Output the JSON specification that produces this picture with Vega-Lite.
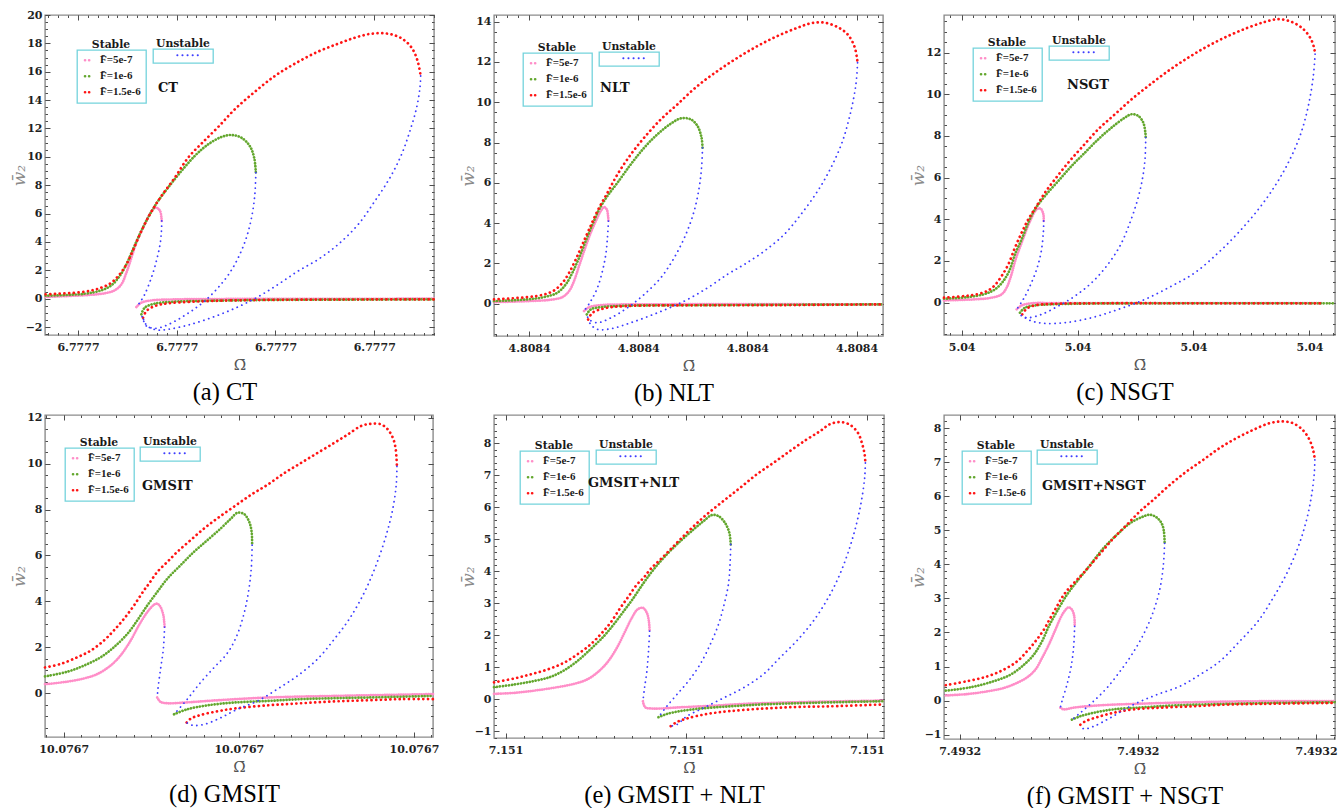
{
"$schema": "https://vega.github.io/schema/vega-lite/v6.json",
"background": "white",
"padding": {"left": 9, "top": 8, "right": 0, "bottom": 0},
"columns": 3,
"bounds": "flush",
"spacing": {"row": 79, "column": 60},
"resolve": {"scale": {"color": "independent", "strokeDash": "independent"}, "legend": {"color": "independent", "strokeDash": "independent"}},
"config": {
 "view": {"stroke": "#8c8c8c", "strokeWidth": 1.4},
 "title": {"font": "DejaVu Serif", "fontSize": 13, "fontWeight": "bold", "color": "#141414", "anchor": "start", "frame": "group", "offset": 0, "baseline": "alphabetic"},
 "axis": {"grid": false, "domain": false, "tickColor": "#4d4d4d", "tickWidth": 1, "labelFont": "DejaVu Serif", "labelFontWeight": "bold", "labelFontSize": 11, "labelColor": "#1f1f1f", "labelFlush": false, "labelOverlap": false, "titleFont": "DejaVu Serif", "titleFontWeight": "normal"},
 "legend": {"orient": "none", "strokeColor": "#74d3dc", "strokeWidth": 1.3, "fillColor": "white", "padding": 5, "titleFont": "DejaVu Serif", "titleFontWeight": "bold", "titleFontSize": 10.8, "titleColor": "#1a1a1a", "titleBaseline": "alphabetic", "labelFont": "Liberation Serif", "labelFontWeight": "bold", "labelFontSize": 11, "labelColor": "#1a1a1a", "symbolType": "stroke", "rowPadding": 4, "labelOffset": 7}
},
"datasets": {
"a": [
{"F":"5e-7","b":"s1","x":0.672,"y":0.12},{"F":"5e-7","b":"s1","x":0.899,"y":0.19},{"F":"5e-7","b":"s1","x":1.101,"y":0.26},{"F":"5e-7","b":"s1","x":1.27,"y":0.38},{"F":"5e-7","b":"s1","x":1.372,"y":0.59},{"F":"5e-7","b":"s1","x":1.439,"y":1.01},{"F":"5e-7","b":"s1","x":1.49,"y":1.83},{"F":"5e-7","b":"s1","x":1.541,"y":2.89},{"F":"5e-7","b":"s1","x":1.591,"y":3.95},{"F":"5e-7","b":"s1","x":1.659,"y":5.0},{"F":"5e-7","b":"s1","x":1.726,"y":5.95},{"F":"5e-7","b":"s1","x":1.784,"y":6.42},{"F":"5e-7","b":"s1","x":1.828,"y":6.23},{"F":"5e-7","b":"s1","x":1.845,"y":5.71},{"F":"5e-7","b":"s1","x":1.848,"y":5.48},
{"F":"5e-7","b":"u","x":1.848,"y":5.48},{"F":"5e-7","b":"u","x":1.845,"y":4.77},{"F":"5e-7","b":"u","x":1.831,"y":3.83},{"F":"5e-7","b":"u","x":1.794,"y":2.66},{"F":"5e-7","b":"u","x":1.743,"y":1.48},{"F":"5e-7","b":"u","x":1.676,"y":0.31},{"F":"5e-7","b":"u","x":1.625,"y":-0.28},{"F":"5e-7","b":"u","x":1.591,"y":-0.59},
{"F":"5e-7","b":"s2","x":1.591,"y":-0.59},{"F":"5e-7","b":"s2","x":1.642,"y":-0.28},{"F":"5e-7","b":"s2","x":1.743,"y":-0.12},{"F":"5e-7","b":"s2","x":1.98,"y":-0.05},{"F":"5e-7","b":"s2","x":2.5,"y":-0.02},{"F":"5e-7","b":"s2","x":3.264,"y":-0.01},{"F":"5e-7","b":"s2","x":4.605,"y":0.0},
{"F":"1e-6","b":"s1","x":0.672,"y":0.21},{"F":"1e-6","b":"s1","x":1.068,"y":0.35},{"F":"1e-6","b":"s1","x":1.236,"y":0.59},{"F":"1e-6","b":"s1","x":1.338,"y":0.94},{"F":"1e-6","b":"s1","x":1.422,"y":1.6},{"F":"1e-6","b":"s1","x":1.49,"y":2.42},{"F":"1e-6","b":"s1","x":1.557,"y":3.48},{"F":"1e-6","b":"s1","x":1.625,"y":4.54},{"F":"1e-6","b":"s1","x":1.709,"y":5.71},{"F":"1e-6","b":"s1","x":1.811,"y":6.89},{"F":"1e-6","b":"s1","x":1.912,"y":7.83},{"F":"1e-6","b":"s1","x":2.047,"y":9.0},{"F":"1e-6","b":"s1","x":2.182,"y":10.06},{"F":"1e-6","b":"s1","x":2.318,"y":10.88},{"F":"1e-6","b":"s1","x":2.453,"y":11.4},{"F":"1e-6","b":"s1","x":2.554,"y":11.54},{"F":"1e-6","b":"s1","x":2.655,"y":11.35},{"F":"1e-6","b":"s1","x":2.74,"y":10.76},{"F":"1e-6","b":"s1","x":2.784,"y":9.94},{"F":"1e-6","b":"s1","x":2.801,"y":8.88},
{"F":"1e-6","b":"u","x":2.801,"y":8.88},{"F":"1e-6","b":"u","x":2.791,"y":7.36},{"F":"1e-6","b":"u","x":2.764,"y":5.95},{"F":"1e-6","b":"u","x":2.716,"y":4.54},{"F":"1e-6","b":"u","x":2.639,"y":3.13},{"F":"1e-6","b":"u","x":2.537,"y":1.83},{"F":"1e-6","b":"u","x":2.419,"y":0.78},{"F":"1e-6","b":"u","x":2.284,"y":-0.16},{"F":"1e-6","b":"u","x":2.149,"y":-0.87},{"F":"1e-6","b":"u","x":2.014,"y":-1.46},{"F":"1e-6","b":"u","x":1.878,"y":-1.93},{"F":"1e-6","b":"u","x":1.777,"y":-2.09},{"F":"1e-6","b":"u","x":1.693,"y":-1.93},{"F":"1e-6","b":"u","x":1.659,"y":-1.46},{"F":"1e-6","b":"u","x":1.642,"y":-1.1},
{"F":"1e-6","b":"s2","x":1.642,"y":-1.1},{"F":"1e-6","b":"s2","x":1.676,"y":-0.63},{"F":"1e-6","b":"s2","x":1.777,"y":-0.35},{"F":"1e-6","b":"s2","x":1.98,"y":-0.21},{"F":"1e-6","b":"s2","x":2.25,"y":-0.16},{"F":"1e-6","b":"s2","x":2.926,"y":-0.09},{"F":"1e-6","b":"s2","x":3.601,"y":-0.07},{"F":"1e-6","b":"s2","x":4.605,"y":-0.05},
{"F":"1.5e-6","b":"s1","x":0.672,"y":0.31},{"F":"1.5e-6","b":"s1","x":1.068,"y":0.49},{"F":"1.5e-6","b":"s1","x":1.236,"y":0.78},{"F":"1.5e-6","b":"s1","x":1.338,"y":1.13},{"F":"1.5e-6","b":"s1","x":1.422,"y":1.72},{"F":"1.5e-6","b":"s1","x":1.49,"y":2.42},{"F":"1.5e-6","b":"s1","x":1.557,"y":3.41},{"F":"1.5e-6","b":"s1","x":1.642,"y":4.77},{"F":"1.5e-6","b":"s1","x":1.743,"y":6.13},{"F":"1.5e-6","b":"s1","x":1.845,"y":7.24},{"F":"1.5e-6","b":"s1","x":1.98,"y":8.53},{"F":"1.5e-6","b":"s1","x":2.115,"y":9.94},{"F":"1.5e-6","b":"s1","x":2.25,"y":10.93},{"F":"1.5e-6","b":"s1","x":2.419,"y":12.1},{"F":"1.5e-6","b":"s1","x":2.588,"y":13.35},{"F":"1.5e-6","b":"s1","x":2.791,"y":14.59},{"F":"1.5e-6","b":"s1","x":2.993,"y":15.7},{"F":"1.5e-6","b":"s1","x":3.196,"y":16.57},{"F":"1.5e-6","b":"s1","x":3.432,"y":17.42},{"F":"1.5e-6","b":"s1","x":3.635,"y":17.98},{"F":"1.5e-6","b":"s1","x":3.804,"y":18.4},{"F":"1.5e-6","b":"s1","x":3.973,"y":18.68},{"F":"1.5e-6","b":"s1","x":4.142,"y":18.68},{"F":"1.5e-6","b":"s1","x":4.277,"y":18.35},{"F":"1.5e-6","b":"s1","x":4.378,"y":17.7},{"F":"1.5e-6","b":"s1","x":4.439,"y":16.76},{"F":"1.5e-6","b":"s1","x":4.47,"y":15.7},
{"F":"1.5e-6","b":"u","x":4.47,"y":15.7},{"F":"1.5e-6","b":"u","x":4.463,"y":14.88},{"F":"1.5e-6","b":"u","x":4.429,"y":13.47},{"F":"1.5e-6","b":"u","x":4.361,"y":11.82},{"F":"1.5e-6","b":"u","x":4.277,"y":10.18},{"F":"1.5e-6","b":"u","x":4.159,"y":8.53},{"F":"1.5e-6","b":"u","x":4.007,"y":6.89},{"F":"1.5e-6","b":"u","x":3.838,"y":5.24},{"F":"1.5e-6","b":"u","x":3.635,"y":3.83},{"F":"1.5e-6","b":"u","x":3.432,"y":2.77},{"F":"1.5e-6","b":"u","x":3.23,"y":1.95},{"F":"1.5e-6","b":"u","x":3.027,"y":1.01},{"F":"1.5e-6","b":"u","x":2.807,"y":0.07},{"F":"1.5e-6","b":"u","x":2.588,"y":-0.68},{"F":"1.5e-6","b":"u","x":2.351,"y":-1.34},{"F":"1.5e-6","b":"u","x":2.115,"y":-1.86},{"F":"1.5e-6","b":"u","x":1.912,"y":-2.16},{"F":"1.5e-6","b":"u","x":1.811,"y":-2.21},{"F":"1.5e-6","b":"u","x":1.726,"y":-2.04},{"F":"1.5e-6","b":"u","x":1.676,"y":-1.69},{"F":"1.5e-6","b":"u","x":1.659,"y":-1.34},
{"F":"1.5e-6","b":"s2","x":1.659,"y":-1.34},{"F":"1.5e-6","b":"s2","x":1.693,"y":-0.87},{"F":"1.5e-6","b":"s2","x":1.777,"y":-0.52},{"F":"1.5e-6","b":"s2","x":1.912,"y":-0.33},{"F":"1.5e-6","b":"s2","x":2.182,"y":-0.21},{"F":"1.5e-6","b":"s2","x":2.588,"y":-0.12},{"F":"1.5e-6","b":"s2","x":3.264,"y":-0.07},{"F":"1.5e-6","b":"s2","x":4.605,"y":-0.05}
],
"b": [
{"F":"5e-7","b":"s1","x":0.679,"y":0.08},{"F":"5e-7","b":"s1","x":0.985,"y":0.13},{"F":"5e-7","b":"s1","x":1.199,"y":0.2},{"F":"5e-7","b":"s1","x":1.306,"y":0.33},{"F":"5e-7","b":"s1","x":1.367,"y":0.63},{"F":"5e-7","b":"s1","x":1.412,"y":1.13},{"F":"5e-7","b":"s1","x":1.458,"y":1.87},{"F":"5e-7","b":"s1","x":1.504,"y":2.61},{"F":"5e-7","b":"s1","x":1.559,"y":3.44},{"F":"5e-7","b":"s1","x":1.611,"y":4.1},{"F":"5e-7","b":"s1","x":1.657,"y":4.6},{"F":"5e-7","b":"s1","x":1.687,"y":4.8},{"F":"5e-7","b":"s1","x":1.712,"y":4.68},{"F":"5e-7","b":"s1","x":1.724,"y":4.35},{"F":"5e-7","b":"s1","x":1.727,"y":4.1},
{"F":"5e-7","b":"u","x":1.727,"y":4.1},{"F":"5e-7","b":"u","x":1.718,"y":3.28},{"F":"5e-7","b":"u","x":1.703,"y":2.45},{"F":"5e-7","b":"u","x":1.672,"y":1.62},{"F":"5e-7","b":"u","x":1.626,"y":0.79},{"F":"5e-7","b":"u","x":1.565,"y":0.13},{"F":"5e-7","b":"u","x":1.504,"y":-0.36},
{"F":"5e-7","b":"s2","x":1.504,"y":-0.36},{"F":"5e-7","b":"s2","x":1.55,"y":-0.17},{"F":"5e-7","b":"s2","x":1.657,"y":-0.07},{"F":"5e-7","b":"s2","x":2.054,"y":-0.03},{"F":"5e-7","b":"s2","x":4.242,"y":-0.03},
{"F":"1e-6","b":"s1","x":0.679,"y":0.13},{"F":"1e-6","b":"s1","x":0.985,"y":0.22},{"F":"1e-6","b":"s1","x":1.137,"y":0.33},{"F":"1e-6","b":"s1","x":1.26,"y":0.55},{"F":"1e-6","b":"s1","x":1.336,"y":0.96},{"F":"1e-6","b":"s1","x":1.397,"y":1.54},{"F":"1e-6","b":"s1","x":1.458,"y":2.28},{"F":"1e-6","b":"s1","x":1.519,"y":3.11},{"F":"1e-6","b":"s1","x":1.581,"y":3.94},{"F":"1e-6","b":"s1","x":1.642,"y":4.68},{"F":"1e-6","b":"s1","x":1.718,"y":5.35},{"F":"1e-6","b":"s1","x":1.81,"y":6.01},{"F":"1e-6","b":"s1","x":1.932,"y":6.92},{"F":"1e-6","b":"s1","x":2.054,"y":7.74},{"F":"1e-6","b":"s1","x":2.176,"y":8.41},{"F":"1e-6","b":"s1","x":2.299,"y":8.94},{"F":"1e-6","b":"s1","x":2.39,"y":9.2},{"F":"1e-6","b":"s1","x":2.482,"y":9.15},{"F":"1e-6","b":"s1","x":2.543,"y":8.82},{"F":"1e-6","b":"s1","x":2.58,"y":8.24},{"F":"1e-6","b":"s1","x":2.589,"y":7.74},
{"F":"1e-6","b":"u","x":2.589,"y":7.74},{"F":"1e-6","b":"u","x":2.58,"y":6.75},{"F":"1e-6","b":"u","x":2.558,"y":5.76},{"F":"1e-6","b":"u","x":2.512,"y":4.6},{"F":"1e-6","b":"u","x":2.436,"y":3.44},{"F":"1e-6","b":"u","x":2.329,"y":2.28},{"F":"1e-6","b":"u","x":2.207,"y":1.29},{"F":"1e-6","b":"u","x":2.054,"y":0.46},{"F":"1e-6","b":"u","x":1.901,"y":-0.2},{"F":"1e-6","b":"u","x":1.749,"y":-0.7},{"F":"1e-6","b":"u","x":1.626,"y":-0.94},{"F":"1e-6","b":"u","x":1.55,"y":-0.78},{"F":"1e-6","b":"u","x":1.529,"y":-0.53},
{"F":"1e-6","b":"s2","x":1.529,"y":-0.53},{"F":"1e-6","b":"s2","x":1.565,"y":-0.28},{"F":"1e-6","b":"s2","x":1.657,"y":-0.17},{"F":"1e-6","b":"s2","x":1.871,"y":-0.1},{"F":"1e-6","b":"s2","x":2.665,"y":-0.07},{"F":"1e-6","b":"s2","x":4.242,"y":-0.03},
{"F":"1.5e-6","b":"s1","x":0.679,"y":0.22},{"F":"1.5e-6","b":"s1","x":0.985,"y":0.33},{"F":"1.5e-6","b":"s1","x":1.137,"y":0.46},{"F":"1.5e-6","b":"s1","x":1.229,"y":0.66},{"F":"1.5e-6","b":"s1","x":1.306,"y":1.04},{"F":"1.5e-6","b":"s1","x":1.367,"y":1.54},{"F":"1.5e-6","b":"s1","x":1.428,"y":2.2},{"F":"1.5e-6","b":"s1","x":1.489,"y":2.95},{"F":"1.5e-6","b":"s1","x":1.55,"y":3.69},{"F":"1.5e-6","b":"s1","x":1.626,"y":4.6},{"F":"1.5e-6","b":"s1","x":1.718,"y":5.51},{"F":"1.5e-6","b":"s1","x":1.81,"y":6.42},{"F":"1.5e-6","b":"s1","x":1.932,"y":7.41},{"F":"1.5e-6","b":"s1","x":2.054,"y":8.24},{"F":"1.5e-6","b":"s1","x":2.207,"y":9.15},{"F":"1.5e-6","b":"s1","x":2.36,"y":9.9},{"F":"1.5e-6","b":"s1","x":2.543,"y":10.81},{"F":"1.5e-6","b":"s1","x":2.726,"y":11.55},{"F":"1.5e-6","b":"s1","x":2.91,"y":12.21},{"F":"1.5e-6","b":"s1","x":3.093,"y":12.79},{"F":"1.5e-6","b":"s1","x":3.276,"y":13.29},{"F":"1.5e-6","b":"s1","x":3.46,"y":13.7},{"F":"1.5e-6","b":"s1","x":3.582,"y":13.92},{"F":"1.5e-6","b":"s1","x":3.704,"y":13.95},{"F":"1.5e-6","b":"s1","x":3.826,"y":13.73},{"F":"1.5e-6","b":"s1","x":3.918,"y":13.37},{"F":"1.5e-6","b":"s1","x":3.979,"y":12.79},{"F":"1.5e-6","b":"s1","x":4.003,"y":12.21},{"F":"1.5e-6","b":"s1","x":4.009,"y":11.96},
{"F":"1.5e-6","b":"u","x":4.009,"y":11.96},{"F":"1.5e-6","b":"u","x":3.994,"y":10.89},{"F":"1.5e-6","b":"u","x":3.948,"y":9.56},{"F":"1.5e-6","b":"u","x":3.872,"y":8.08},{"F":"1.5e-6","b":"u","x":3.765,"y":6.75},{"F":"1.5e-6","b":"u","x":3.643,"y":5.59},{"F":"1.5e-6","b":"u","x":3.49,"y":4.43},{"F":"1.5e-6","b":"u","x":3.337,"y":3.44},{"F":"1.5e-6","b":"u","x":3.154,"y":2.61},{"F":"1.5e-6","b":"u","x":2.971,"y":1.95},{"F":"1.5e-6","b":"u","x":2.818,"y":1.46},{"F":"1.5e-6","b":"u","x":2.635,"y":0.79},{"F":"1.5e-6","b":"u","x":2.421,"y":0.13},{"F":"1.5e-6","b":"u","x":2.176,"y":-0.45},{"F":"1.5e-6","b":"u","x":1.932,"y":-0.94},{"F":"1.5e-6","b":"u","x":1.749,"y":-1.24},{"F":"1.5e-6","b":"u","x":1.626,"y":-1.27},{"F":"1.5e-6","b":"u","x":1.565,"y":-1.03},{"F":"1.5e-6","b":"u","x":1.541,"y":-0.78},
{"F":"1.5e-6","b":"s2","x":1.541,"y":-0.78},{"F":"1.5e-6","b":"s2","x":1.581,"y":-0.45},{"F":"1.5e-6","b":"s2","x":1.687,"y":-0.23},{"F":"1.5e-6","b":"s2","x":1.871,"y":-0.12},{"F":"1.5e-6","b":"s2","x":2.36,"y":-0.08},{"F":"1.5e-6","b":"s2","x":3.276,"y":-0.07},{"F":"1.5e-6","b":"s2","x":4.242,"y":-0.03}
],
"c": [
{"F":"5e-7","b":"s1","x":0.848,"y":0.11},{"F":"5e-7","b":"s1","x":1.115,"y":0.16},{"F":"5e-7","b":"s1","x":1.259,"y":0.24},{"F":"5e-7","b":"s1","x":1.345,"y":0.4},{"F":"5e-7","b":"s1","x":1.388,"y":0.72},{"F":"5e-7","b":"s1","x":1.426,"y":1.28},{"F":"5e-7","b":"s1","x":1.466,"y":2.08},{"F":"5e-7","b":"s1","x":1.518,"y":2.88},{"F":"5e-7","b":"s1","x":1.561,"y":3.52},{"F":"5e-7","b":"s1","x":1.604,"y":4.08},{"F":"5e-7","b":"s1","x":1.647,"y":4.48},{"F":"5e-7","b":"s1","x":1.682,"y":4.51},{"F":"5e-7","b":"s1","x":1.705,"y":4.24},{"F":"5e-7","b":"s1","x":1.708,"y":3.92},
{"F":"5e-7","b":"u","x":1.708,"y":3.92},{"F":"5e-7","b":"u","x":1.705,"y":3.36},{"F":"5e-7","b":"u","x":1.685,"y":2.4},{"F":"5e-7","b":"u","x":1.647,"y":1.6},{"F":"5e-7","b":"u","x":1.59,"y":0.8},{"F":"5e-7","b":"u","x":1.532,"y":0.16},{"F":"5e-7","b":"u","x":1.475,"y":-0.32},
{"F":"5e-7","b":"s2","x":1.475,"y":-0.32},{"F":"5e-7","b":"s2","x":1.518,"y":-0.13},{"F":"5e-7","b":"s2","x":1.604,"y":-0.03},{"F":"5e-7","b":"s2","x":1.834,"y":-0.02},{"F":"5e-7","b":"s2","x":4.106,"y":-0.02},
{"F":"1e-6","b":"s1","x":0.848,"y":0.19},{"F":"1e-6","b":"s1","x":1.058,"y":0.27},{"F":"1e-6","b":"s1","x":1.201,"y":0.42},{"F":"1e-6","b":"s1","x":1.288,"y":0.64},{"F":"1e-6","b":"s1","x":1.36,"y":1.04},{"F":"1e-6","b":"s1","x":1.417,"y":1.6},{"F":"1e-6","b":"s1","x":1.46,"y":2.32},{"F":"1e-6","b":"s1","x":1.518,"y":3.04},{"F":"1e-6","b":"s1","x":1.575,"y":3.84},{"F":"1e-6","b":"s1","x":1.633,"y":4.48},{"F":"1e-6","b":"s1","x":1.719,"y":5.12},{"F":"1e-6","b":"s1","x":1.834,"y":5.84},{"F":"1e-6","b":"s1","x":1.949,"y":6.56},{"F":"1e-6","b":"s1","x":2.064,"y":7.2},{"F":"1e-6","b":"s1","x":2.179,"y":7.84},{"F":"1e-6","b":"s1","x":2.294,"y":8.4},{"F":"1e-6","b":"s1","x":2.409,"y":8.88},{"F":"1e-6","b":"s1","x":2.467,"y":9.04},{"F":"1e-6","b":"s1","x":2.524,"y":8.96},{"F":"1e-6","b":"s1","x":2.567,"y":8.64},{"F":"1e-6","b":"s1","x":2.585,"y":8.16},{"F":"1e-6","b":"s1","x":2.588,"y":7.92},
{"F":"1e-6","b":"u","x":2.588,"y":7.92},{"F":"1e-6","b":"u","x":2.582,"y":6.88},{"F":"1e-6","b":"u","x":2.559,"y":5.92},{"F":"1e-6","b":"u","x":2.519,"y":4.96},{"F":"1e-6","b":"u","x":2.452,"y":3.84},{"F":"1e-6","b":"u","x":2.366,"y":2.72},{"F":"1e-6","b":"u","x":2.251,"y":1.76},{"F":"1e-6","b":"u","x":2.122,"y":0.96},{"F":"1e-6","b":"u","x":1.978,"y":0.32},{"F":"1e-6","b":"u","x":1.834,"y":-0.16},{"F":"1e-6","b":"u","x":1.69,"y":-0.56},{"F":"1e-6","b":"u","x":1.575,"y":-0.72},{"F":"1e-6","b":"u","x":1.518,"y":-0.64},{"F":"1e-6","b":"u","x":1.503,"y":-0.48},
{"F":"1e-6","b":"s2","x":1.503,"y":-0.48},{"F":"1e-6","b":"s2","x":1.546,"y":-0.24},{"F":"1e-6","b":"s2","x":1.633,"y":-0.13},{"F":"1e-6","b":"s2","x":1.892,"y":-0.06},{"F":"1e-6","b":"s2","x":2.697,"y":-0.03},{"F":"1e-6","b":"s2","x":4.221,"y":-0.03},
{"F":"1.5e-6","b":"s1","x":0.848,"y":0.24},{"F":"1.5e-6","b":"s1","x":1.029,"y":0.32},{"F":"1.5e-6","b":"s1","x":1.144,"y":0.42},{"F":"1.5e-6","b":"s1","x":1.23,"y":0.59},{"F":"1.5e-6","b":"s1","x":1.288,"y":0.85},{"F":"1.5e-6","b":"s1","x":1.345,"y":1.28},{"F":"1.5e-6","b":"s1","x":1.403,"y":1.84},{"F":"1.5e-6","b":"s1","x":1.46,"y":2.64},{"F":"1.5e-6","b":"s1","x":1.518,"y":3.36},{"F":"1.5e-6","b":"s1","x":1.575,"y":4.0},{"F":"1.5e-6","b":"s1","x":1.647,"y":4.64},{"F":"1.5e-6","b":"s1","x":1.719,"y":5.28},{"F":"1.5e-6","b":"s1","x":1.805,"y":5.92},{"F":"1.5e-6","b":"s1","x":1.92,"y":6.72},{"F":"1.5e-6","b":"s1","x":2.035,"y":7.44},{"F":"1.5e-6","b":"s1","x":2.179,"y":8.32},{"F":"1.5e-6","b":"s1","x":2.323,"y":9.04},{"F":"1.5e-6","b":"s1","x":2.467,"y":9.76},{"F":"1.5e-6","b":"s1","x":2.611,"y":10.4},{"F":"1.5e-6","b":"s1","x":2.783,"y":11.12},{"F":"1.5e-6","b":"s1","x":2.956,"y":11.76},{"F":"1.5e-6","b":"s1","x":3.128,"y":12.32},{"F":"1.5e-6","b":"s1","x":3.301,"y":12.8},{"F":"1.5e-6","b":"s1","x":3.473,"y":13.2},{"F":"1.5e-6","b":"s1","x":3.617,"y":13.47},{"F":"1.5e-6","b":"s1","x":3.732,"y":13.6},{"F":"1.5e-6","b":"s1","x":3.847,"y":13.47},{"F":"1.5e-6","b":"s1","x":3.948,"y":13.12},{"F":"1.5e-6","b":"s1","x":4.014,"y":12.64},{"F":"1.5e-6","b":"s1","x":4.043,"y":12.16},{"F":"1.5e-6","b":"s1","x":4.049,"y":11.92},
{"F":"1.5e-6","b":"u","x":4.049,"y":11.92},{"F":"1.5e-6","b":"u","x":4.034,"y":10.88},{"F":"1.5e-6","b":"u","x":3.991,"y":9.44},{"F":"1.5e-6","b":"u","x":3.919,"y":8.0},{"F":"1.5e-6","b":"u","x":3.818,"y":6.72},{"F":"1.5e-6","b":"u","x":3.703,"y":5.6},{"F":"1.5e-6","b":"u","x":3.56,"y":4.48},{"F":"1.5e-6","b":"u","x":3.387,"y":3.36},{"F":"1.5e-6","b":"u","x":3.215,"y":2.4},{"F":"1.5e-6","b":"u","x":3.013,"y":1.44},{"F":"1.5e-6","b":"u","x":2.812,"y":0.8},{"F":"1.5e-6","b":"u","x":2.582,"y":0.16},{"F":"1.5e-6","b":"u","x":2.352,"y":-0.32},{"F":"1.5e-6","b":"u","x":2.122,"y":-0.72},{"F":"1.5e-6","b":"u","x":1.892,"y":-0.96},{"F":"1.5e-6","b":"u","x":1.705,"y":-0.99},{"F":"1.5e-6","b":"u","x":1.604,"y":-0.88},{"F":"1.5e-6","b":"u","x":1.546,"y":-0.72},{"F":"1.5e-6","b":"u","x":1.523,"y":-0.56},
{"F":"1.5e-6","b":"s2","x":1.523,"y":-0.56},{"F":"1.5e-6","b":"s2","x":1.561,"y":-0.29},{"F":"1.5e-6","b":"s2","x":1.633,"y":-0.13},{"F":"1.5e-6","b":"s2","x":1.777,"y":-0.06},{"F":"1.5e-6","b":"s2","x":2.122,"y":-0.03},{"F":"1.5e-6","b":"s2","x":3.272,"y":-0.03},{"F":"1.5e-6","b":"s2","x":4.106,"y":-0.03}
],
"d": [
{"F":"5e-7","b":"s1","x":0.893,"y":0.39},{"F":"5e-7","b":"s1","x":1.019,"y":0.5},{"F":"5e-7","b":"s1","x":1.115,"y":0.64},{"F":"5e-7","b":"s1","x":1.191,"y":0.83},{"F":"5e-7","b":"s1","x":1.267,"y":1.2},{"F":"5e-7","b":"s1","x":1.324,"y":1.64},{"F":"5e-7","b":"s1","x":1.382,"y":2.29},{"F":"5e-7","b":"s1","x":1.429,"y":2.95},{"F":"5e-7","b":"s1","x":1.477,"y":3.53},{"F":"5e-7","b":"s1","x":1.515,"y":3.85},{"F":"5e-7","b":"s1","x":1.534,"y":3.9},{"F":"5e-7","b":"s1","x":1.553,"y":3.75},{"F":"5e-7","b":"s1","x":1.569,"y":3.39},{"F":"5e-7","b":"s1","x":1.576,"y":2.88},
{"F":"5e-7","b":"u","x":1.576,"y":2.88},{"F":"5e-7","b":"u","x":1.569,"y":1.93},{"F":"5e-7","b":"u","x":1.553,"y":1.05},{"F":"5e-7","b":"u","x":1.538,"y":0.18},{"F":"5e-7","b":"u","x":1.534,"y":-0.19},
{"F":"5e-7","b":"s2","x":1.534,"y":-0.19},{"F":"5e-7","b":"s2","x":1.553,"y":-0.38},{"F":"5e-7","b":"s2","x":1.592,"y":-0.44},{"F":"5e-7","b":"s2","x":1.687,"y":-0.41},{"F":"5e-7","b":"s2","x":1.878,"y":-0.31},{"F":"5e-7","b":"s2","x":2.164,"y":-0.19},{"F":"5e-7","b":"s2","x":2.546,"y":-0.12},{"F":"5e-7","b":"s2","x":3.109,"y":-0.04},
{"F":"1e-6","b":"s1","x":0.893,"y":0.73},{"F":"1e-6","b":"s1","x":1.019,"y":0.93},{"F":"1e-6","b":"s1","x":1.115,"y":1.2},{"F":"1e-6","b":"s1","x":1.21,"y":1.56},{"F":"1e-6","b":"s1","x":1.286,"y":2.0},{"F":"1e-6","b":"s1","x":1.363,"y":2.58},{"F":"1e-6","b":"s1","x":1.42,"y":3.17},{"F":"1e-6","b":"s1","x":1.477,"y":3.82},{"F":"1e-6","b":"s1","x":1.534,"y":4.41},{"F":"1e-6","b":"s1","x":1.592,"y":4.99},{"F":"1e-6","b":"s1","x":1.668,"y":5.58},{"F":"1e-6","b":"s1","x":1.744,"y":6.16},{"F":"1e-6","b":"s1","x":1.821,"y":6.67},{"F":"1e-6","b":"s1","x":1.897,"y":7.18},{"F":"1e-6","b":"s1","x":1.954,"y":7.6},{"F":"1e-6","b":"s1","x":1.992,"y":7.86},{"F":"1e-6","b":"s1","x":2.031,"y":7.8},{"F":"1e-6","b":"s1","x":2.059,"y":7.47},{"F":"1e-6","b":"s1","x":2.073,"y":7.04},{"F":"1e-6","b":"s1","x":2.076,"y":6.45},
{"F":"1e-6","b":"u","x":2.076,"y":6.45},{"F":"1e-6","b":"u","x":2.071,"y":5.43},{"F":"1e-6","b":"u","x":2.055,"y":4.41},{"F":"1e-6","b":"u","x":2.027,"y":3.39},{"F":"1e-6","b":"u","x":1.985,"y":2.44},{"F":"1e-6","b":"u","x":1.931,"y":1.71},{"F":"1e-6","b":"u","x":1.859,"y":1.12},{"F":"1e-6","b":"u","x":1.782,"y":0.47},{"F":"1e-6","b":"u","x":1.706,"y":-0.26},{"F":"1e-6","b":"u","x":1.63,"y":-0.92},
{"F":"1e-6","b":"s2","x":1.63,"y":-0.92},{"F":"1e-6","b":"s2","x":1.706,"y":-0.7},{"F":"1e-6","b":"s2","x":1.821,"y":-0.53},{"F":"1e-6","b":"s2","x":1.973,"y":-0.41},{"F":"1e-6","b":"s2","x":2.164,"y":-0.34},{"F":"1e-6","b":"s2","x":2.355,"y":-0.26},{"F":"1e-6","b":"s2","x":2.546,"y":-0.22},{"F":"1e-6","b":"s2","x":2.737,"y":-0.19},{"F":"1e-6","b":"s2","x":3.109,"y":-0.12},
{"F":"1.5e-6","b":"s1","x":0.893,"y":1.12},{"F":"1.5e-6","b":"s1","x":0.981,"y":1.27},{"F":"1.5e-6","b":"s1","x":1.076,"y":1.56},{"F":"1.5e-6","b":"s1","x":1.153,"y":1.85},{"F":"1.5e-6","b":"s1","x":1.229,"y":2.29},{"F":"1.5e-6","b":"s1","x":1.286,"y":2.73},{"F":"1.5e-6","b":"s1","x":1.344,"y":3.24},{"F":"1.5e-6","b":"s1","x":1.401,"y":3.82},{"F":"1.5e-6","b":"s1","x":1.458,"y":4.48},{"F":"1.5e-6","b":"s1","x":1.487,"y":4.77},{"F":"1.5e-6","b":"s1","x":1.534,"y":5.28},{"F":"1.5e-6","b":"s1","x":1.592,"y":5.72},{"F":"1.5e-6","b":"s1","x":1.649,"y":6.16},{"F":"1.5e-6","b":"s1","x":1.725,"y":6.67},{"F":"1.5e-6","b":"s1","x":1.802,"y":7.18},{"F":"1.5e-6","b":"s1","x":1.878,"y":7.62},{"F":"1.5e-6","b":"s1","x":1.973,"y":8.13},{"F":"1.5e-6","b":"s1","x":2.069,"y":8.64},{"F":"1.5e-6","b":"s1","x":2.164,"y":9.08},{"F":"1.5e-6","b":"s1","x":2.26,"y":9.59},{"F":"1.5e-6","b":"s1","x":2.355,"y":10.03},{"F":"1.5e-6","b":"s1","x":2.45,"y":10.47},{"F":"1.5e-6","b":"s1","x":2.546,"y":10.91},{"F":"1.5e-6","b":"s1","x":2.622,"y":11.27},{"F":"1.5e-6","b":"s1","x":2.698,"y":11.64},{"F":"1.5e-6","b":"s1","x":2.756,"y":11.74},{"F":"1.5e-6","b":"s1","x":2.813,"y":11.71},{"F":"1.5e-6","b":"s1","x":2.851,"y":11.49},{"F":"1.5e-6","b":"s1","x":2.88,"y":11.12},{"F":"1.5e-6","b":"s1","x":2.895,"y":10.69},{"F":"1.5e-6","b":"s1","x":2.901,"y":10.18},{"F":"1.5e-6","b":"s1","x":2.903,"y":9.88},
{"F":"1.5e-6","b":"u","x":2.903,"y":9.88},{"F":"1.5e-6","b":"u","x":2.899,"y":9.08},{"F":"1.5e-6","b":"u","x":2.88,"y":8.06},{"F":"1.5e-6","b":"u","x":2.842,"y":6.89},{"F":"1.5e-6","b":"u","x":2.784,"y":5.58},{"F":"1.5e-6","b":"u","x":2.718,"y":4.41},{"F":"1.5e-6","b":"u","x":2.632,"y":3.24},{"F":"1.5e-6","b":"u","x":2.546,"y":2.36},{"F":"1.5e-6","b":"u","x":2.45,"y":1.49},{"F":"1.5e-6","b":"u","x":2.336,"y":0.76},{"F":"1.5e-6","b":"u","x":2.221,"y":0.18},{"F":"1.5e-6","b":"u","x":2.107,"y":-0.34},{"F":"1.5e-6","b":"u","x":1.992,"y":-0.7},{"F":"1.5e-6","b":"u","x":1.897,"y":-1.07},{"F":"1.5e-6","b":"u","x":1.802,"y":-1.36},{"F":"1.5e-6","b":"u","x":1.735,"y":-1.4},{"F":"1.5e-6","b":"u","x":1.702,"y":-1.28},
{"F":"1.5e-6","b":"s2","x":1.702,"y":-1.28},{"F":"1.5e-6","b":"s2","x":1.725,"y":-1.11},{"F":"1.5e-6","b":"s2","x":1.782,"y":-0.95},{"F":"1.5e-6","b":"s2","x":1.878,"y":-0.79},{"F":"1.5e-6","b":"s2","x":1.973,"y":-0.67},{"F":"1.5e-6","b":"s2","x":2.164,"y":-0.53},{"F":"1.5e-6","b":"s2","x":2.355,"y":-0.44},{"F":"1.5e-6","b":"s2","x":2.546,"y":-0.36},{"F":"1.5e-6","b":"s2","x":2.737,"y":-0.31},{"F":"1.5e-6","b":"s2","x":2.927,"y":-0.26},{"F":"1.5e-6","b":"s2","x":3.109,"y":-0.26}
],
"e": [
{"F":"5e-7","b":"s1","x":0.936,"y":0.17},{"F":"5e-7","b":"s1","x":1.046,"y":0.2},{"F":"5e-7","b":"s1","x":1.156,"y":0.27},{"F":"5e-7","b":"s1","x":1.267,"y":0.36},{"F":"5e-7","b":"s1","x":1.377,"y":0.48},{"F":"5e-7","b":"s1","x":1.451,"y":0.62},{"F":"5e-7","b":"s1","x":1.506,"y":0.83},{"F":"5e-7","b":"s1","x":1.561,"y":1.14},{"F":"5e-7","b":"s1","x":1.616,"y":1.61},{"F":"5e-7","b":"s1","x":1.662,"y":2.13},{"F":"5e-7","b":"s1","x":1.699,"y":2.55},{"F":"5e-7","b":"s1","x":1.73,"y":2.81},{"F":"5e-7","b":"s1","x":1.76,"y":2.86},{"F":"5e-7","b":"s1","x":1.782,"y":2.7},{"F":"5e-7","b":"s1","x":1.793,"y":2.44},{"F":"5e-7","b":"s1","x":1.797,"y":2.13},
{"F":"5e-7","b":"u","x":1.797,"y":2.13},{"F":"5e-7","b":"u","x":1.791,"y":1.51},{"F":"5e-7","b":"u","x":1.782,"y":0.88},{"F":"5e-7","b":"u","x":1.769,"y":0.36},{"F":"5e-7","b":"u","x":1.76,"y":-0.06},
{"F":"5e-7","b":"s2","x":1.76,"y":-0.06},{"F":"5e-7","b":"s2","x":1.773,"y":-0.25},{"F":"5e-7","b":"s2","x":1.819,"y":-0.29},{"F":"5e-7","b":"s2","x":1.966,"y":-0.25},{"F":"5e-7","b":"s2","x":2.15,"y":-0.2},{"F":"5e-7","b":"s2","x":2.334,"y":-0.14},{"F":"5e-7","b":"s2","x":2.702,"y":-0.08},{"F":"5e-7","b":"s2","x":3.094,"y":-0.04},
{"F":"1e-6","b":"s1","x":0.936,"y":0.38},{"F":"1e-6","b":"s1","x":1.046,"y":0.46},{"F":"1e-6","b":"s1","x":1.156,"y":0.57},{"F":"1e-6","b":"s1","x":1.248,"y":0.7},{"F":"1e-6","b":"s1","x":1.322,"y":0.9},{"F":"1e-6","b":"s1","x":1.396,"y":1.19},{"F":"1e-6","b":"s1","x":1.469,"y":1.56},{"F":"1e-6","b":"s1","x":1.543,"y":1.97},{"F":"1e-6","b":"s1","x":1.598,"y":2.34},{"F":"1e-6","b":"s1","x":1.653,"y":2.75},{"F":"1e-6","b":"s1","x":1.708,"y":3.17},{"F":"1e-6","b":"s1","x":1.764,"y":3.64},{"F":"1e-6","b":"s1","x":1.819,"y":4.06},{"F":"1e-6","b":"s1","x":1.892,"y":4.53},{"F":"1e-6","b":"s1","x":1.966,"y":4.94},{"F":"1e-6","b":"s1","x":2.04,"y":5.31},{"F":"1e-6","b":"s1","x":2.095,"y":5.57},{"F":"1e-6","b":"s1","x":2.141,"y":5.76},{"F":"1e-6","b":"s1","x":2.178,"y":5.73},{"F":"1e-6","b":"s1","x":2.214,"y":5.52},{"F":"1e-6","b":"s1","x":2.238,"y":5.21},{"F":"1e-6","b":"s1","x":2.246,"y":4.84},
{"F":"1e-6","b":"u","x":2.246,"y":4.84},{"F":"1e-6","b":"u","x":2.242,"y":4.21},{"F":"1e-6","b":"u","x":2.233,"y":3.59},{"F":"1e-6","b":"u","x":2.209,"y":2.96},{"F":"1e-6","b":"u","x":2.178,"y":2.34},{"F":"1e-6","b":"u","x":2.132,"y":1.71},{"F":"1e-6","b":"u","x":2.076,"y":1.09},{"F":"1e-6","b":"u","x":2.012,"y":0.57},{"F":"1e-6","b":"u","x":1.948,"y":0.15},{"F":"1e-6","b":"u","x":1.892,"y":-0.22},{"F":"1e-6","b":"u","x":1.846,"y":-0.56},
{"F":"1e-6","b":"s2","x":1.846,"y":-0.56},{"F":"1e-6","b":"s2","x":1.892,"y":-0.46},{"F":"1e-6","b":"s2","x":1.966,"y":-0.37},{"F":"1e-6","b":"s2","x":2.076,"y":-0.29},{"F":"1e-6","b":"s2","x":2.242,"y":-0.22},{"F":"1e-6","b":"s2","x":2.426,"y":-0.16},{"F":"1e-6","b":"s2","x":2.702,"y":-0.11},{"F":"1e-6","b":"s2","x":3.094,"y":-0.06},
{"F":"1.5e-6","b":"s1","x":0.936,"y":0.53},{"F":"1.5e-6","b":"s1","x":1.046,"y":0.65},{"F":"1.5e-6","b":"s1","x":1.138,"y":0.78},{"F":"1.5e-6","b":"s1","x":1.23,"y":0.93},{"F":"1.5e-6","b":"s1","x":1.322,"y":1.14},{"F":"1.5e-6","b":"s1","x":1.396,"y":1.4},{"F":"1.5e-6","b":"s1","x":1.469,"y":1.71},{"F":"1.5e-6","b":"s1","x":1.524,"y":2.02},{"F":"1.5e-6","b":"s1","x":1.58,"y":2.39},{"F":"1.5e-6","b":"s1","x":1.635,"y":2.86},{"F":"1.5e-6","b":"s1","x":1.681,"y":3.22},{"F":"1.5e-6","b":"s1","x":1.727,"y":3.59},{"F":"1.5e-6","b":"s1","x":1.764,"y":3.8},{"F":"1.5e-6","b":"s1","x":1.8,"y":4.06},{"F":"1.5e-6","b":"s1","x":1.856,"y":4.37},{"F":"1.5e-6","b":"s1","x":1.911,"y":4.68},{"F":"1.5e-6","b":"s1","x":1.966,"y":5.0},{"F":"1.5e-6","b":"s1","x":2.04,"y":5.41},{"F":"1.5e-6","b":"s1","x":2.113,"y":5.78},{"F":"1.5e-6","b":"s1","x":2.205,"y":6.2},{"F":"1.5e-6","b":"s1","x":2.297,"y":6.61},{"F":"1.5e-6","b":"s1","x":2.389,"y":7.03},{"F":"1.5e-6","b":"s1","x":2.481,"y":7.39},{"F":"1.5e-6","b":"s1","x":2.573,"y":7.76},{"F":"1.5e-6","b":"s1","x":2.665,"y":8.12},{"F":"1.5e-6","b":"s1","x":2.739,"y":8.38},{"F":"1.5e-6","b":"s1","x":2.794,"y":8.6},{"F":"1.5e-6","b":"s1","x":2.849,"y":8.67},{"F":"1.5e-6","b":"s1","x":2.904,"y":8.59},{"F":"1.5e-6","b":"s1","x":2.95,"y":8.33},{"F":"1.5e-6","b":"s1","x":2.974,"y":7.97},{"F":"1.5e-6","b":"s1","x":2.987,"y":7.65},{"F":"1.5e-6","b":"s1","x":2.991,"y":7.39},
{"F":"1.5e-6","b":"u","x":2.991,"y":7.39},{"F":"1.5e-6","b":"u","x":2.987,"y":6.93},{"F":"1.5e-6","b":"u","x":2.969,"y":6.2},{"F":"1.5e-6","b":"u","x":2.941,"y":5.47},{"F":"1.5e-6","b":"u","x":2.904,"y":4.74},{"F":"1.5e-6","b":"u","x":2.849,"y":3.9},{"F":"1.5e-6","b":"u","x":2.785,"y":3.17},{"F":"1.5e-6","b":"u","x":2.702,"y":2.44},{"F":"1.5e-6","b":"u","x":2.61,"y":1.82},{"F":"1.5e-6","b":"u","x":2.518,"y":1.3},{"F":"1.5e-6","b":"u","x":2.426,"y":0.78},{"F":"1.5e-6","b":"u","x":2.316,"y":0.36},{"F":"1.5e-6","b":"u","x":2.205,"y":0.04},{"F":"1.5e-6","b":"u","x":2.095,"y":-0.27},{"F":"1.5e-6","b":"u","x":2.003,"y":-0.53},{"F":"1.5e-6","b":"u","x":1.948,"y":-0.79},{"F":"1.5e-6","b":"u","x":1.914,"y":-0.84},
{"F":"1.5e-6","b":"s2","x":1.914,"y":-0.84},{"F":"1.5e-6","b":"s2","x":1.948,"y":-0.71},{"F":"1.5e-6","b":"s2","x":2.003,"y":-0.6},{"F":"1.5e-6","b":"s2","x":2.113,"y":-0.46},{"F":"1.5e-6","b":"s2","x":2.242,"y":-0.37},{"F":"1.5e-6","b":"s2","x":2.426,"y":-0.29},{"F":"1.5e-6","b":"s2","x":2.61,"y":-0.24},{"F":"1.5e-6","b":"s2","x":2.794,"y":-0.22},{"F":"1.5e-6","b":"s2","x":3.094,"y":-0.16}
],
"f": [
{"F":"5e-7","b":"s1","x":0.922,"y":0.15},{"F":"5e-7","b":"s1","x":1.043,"y":0.19},{"F":"5e-7","b":"s1","x":1.155,"y":0.27},{"F":"5e-7","b":"s1","x":1.248,"y":0.37},{"F":"5e-7","b":"s1","x":1.322,"y":0.52},{"F":"5e-7","b":"s1","x":1.378,"y":0.68},{"F":"5e-7","b":"s1","x":1.425,"y":0.91},{"F":"5e-7","b":"s1","x":1.462,"y":1.25},{"F":"5e-7","b":"s1","x":1.5,"y":1.64},{"F":"5e-7","b":"s1","x":1.537,"y":2.08},{"F":"5e-7","b":"s1","x":1.565,"y":2.42},{"F":"5e-7","b":"s1","x":1.587,"y":2.62},{"F":"5e-7","b":"s1","x":1.611,"y":2.74},{"F":"5e-7","b":"s1","x":1.63,"y":2.67},{"F":"5e-7","b":"s1","x":1.643,"y":2.47},{"F":"5e-7","b":"s1","x":1.645,"y":2.18},
{"F":"5e-7","b":"u","x":1.645,"y":2.18},{"F":"5e-7","b":"u","x":1.639,"y":1.54},{"F":"5e-7","b":"u","x":1.624,"y":0.96},{"F":"5e-7","b":"u","x":1.602,"y":0.47},{"F":"5e-7","b":"u","x":1.574,"y":-0.02},{"F":"5e-7","b":"u","x":1.565,"y":-0.21},
{"F":"5e-7","b":"s2","x":1.565,"y":-0.21},{"F":"5e-7","b":"s2","x":1.583,"y":-0.26},{"F":"5e-7","b":"s2","x":1.639,"y":-0.21},{"F":"5e-7","b":"s2","x":1.788,"y":-0.14},{"F":"5e-7","b":"s2","x":2.031,"y":-0.09},{"F":"5e-7","b":"s2","x":2.31,"y":-0.05},{"F":"5e-7","b":"s2","x":2.683,"y":-0.02},{"F":"5e-7","b":"s2","x":3.106,"y":-0.02},
{"F":"1e-6","b":"s1","x":0.922,"y":0.29},{"F":"1e-6","b":"s1","x":1.062,"y":0.39},{"F":"1e-6","b":"s1","x":1.192,"y":0.57},{"F":"1e-6","b":"s1","x":1.285,"y":0.76},{"F":"1e-6","b":"s1","x":1.36,"y":1.05},{"F":"1e-6","b":"s1","x":1.416,"y":1.35},{"F":"1e-6","b":"s1","x":1.462,"y":1.74},{"F":"1e-6","b":"s1","x":1.5,"y":2.18},{"F":"1e-6","b":"s1","x":1.546,"y":2.62},{"F":"1e-6","b":"s1","x":1.602,"y":3.11},{"F":"1e-6","b":"s1","x":1.658,"y":3.5},{"F":"1e-6","b":"s1","x":1.733,"y":3.99},{"F":"1e-6","b":"s1","x":1.807,"y":4.48},{"F":"1e-6","b":"s1","x":1.882,"y":4.87},{"F":"1e-6","b":"s1","x":1.956,"y":5.21},{"F":"1e-6","b":"s1","x":2.031,"y":5.41},{"F":"1e-6","b":"s1","x":2.068,"y":5.46},{"F":"1e-6","b":"s1","x":2.105,"y":5.38},{"F":"1e-6","b":"s1","x":2.133,"y":5.21},{"F":"1e-6","b":"s1","x":2.146,"y":4.97},{"F":"1e-6","b":"s1","x":2.15,"y":4.62},
{"F":"1e-6","b":"u","x":2.15,"y":4.62},{"F":"1e-6","b":"u","x":2.143,"y":3.99},{"F":"1e-6","b":"u","x":2.124,"y":3.3},{"F":"1e-6","b":"u","x":2.087,"y":2.62},{"F":"1e-6","b":"u","x":2.031,"y":1.94},{"F":"1e-6","b":"u","x":1.966,"y":1.35},{"F":"1e-6","b":"u","x":1.9,"y":0.86},{"F":"1e-6","b":"u","x":1.826,"y":0.37},{"F":"1e-6","b":"u","x":1.751,"y":-0.02},{"F":"1e-6","b":"u","x":1.677,"y":-0.36},{"F":"1e-6","b":"u","x":1.63,"y":-0.56},
{"F":"1e-6","b":"s2","x":1.63,"y":-0.56},{"F":"1e-6","b":"s2","x":1.677,"y":-0.46},{"F":"1e-6","b":"s2","x":1.751,"y":-0.36},{"F":"1e-6","b":"s2","x":1.863,"y":-0.26},{"F":"1e-6","b":"s2","x":2.031,"y":-0.2},{"F":"1e-6","b":"s2","x":2.217,"y":-0.14},{"F":"1e-6","b":"s2","x":2.497,"y":-0.1},{"F":"1e-6","b":"s2","x":2.776,"y":-0.07},{"F":"1e-6","b":"s2","x":3.106,"y":-0.05},
{"F":"1.5e-6","b":"s1","x":0.922,"y":0.45},{"F":"1.5e-6","b":"s1","x":1.043,"y":0.57},{"F":"1.5e-6","b":"s1","x":1.155,"y":0.71},{"F":"1.5e-6","b":"s1","x":1.248,"y":0.91},{"F":"1.5e-6","b":"s1","x":1.322,"y":1.15},{"F":"1.5e-6","b":"s1","x":1.378,"y":1.45},{"F":"1.5e-6","b":"s1","x":1.425,"y":1.74},{"F":"1.5e-6","b":"s1","x":1.472,"y":2.08},{"F":"1.5e-6","b":"s1","x":1.509,"y":2.43},{"F":"1.5e-6","b":"s1","x":1.546,"y":2.77},{"F":"1.5e-6","b":"s1","x":1.574,"y":3.03},{"F":"1.5e-6","b":"s1","x":1.602,"y":3.23},{"F":"1.5e-6","b":"s1","x":1.649,"y":3.5},{"F":"1.5e-6","b":"s1","x":1.695,"y":3.75},{"F":"1.5e-6","b":"s1","x":1.751,"y":4.09},{"F":"1.5e-6","b":"s1","x":1.807,"y":4.43},{"F":"1.5e-6","b":"s1","x":1.863,"y":4.77},{"F":"1.5e-6","b":"s1","x":1.937,"y":5.16},{"F":"1.5e-6","b":"s1","x":2.012,"y":5.56},{"F":"1.5e-6","b":"s1","x":2.087,"y":5.9},{"F":"1.5e-6","b":"s1","x":2.18,"y":6.34},{"F":"1.5e-6","b":"s1","x":2.273,"y":6.73},{"F":"1.5e-6","b":"s1","x":2.366,"y":7.07},{"F":"1.5e-6","b":"s1","x":2.459,"y":7.42},{"F":"1.5e-6","b":"s1","x":2.553,"y":7.71},{"F":"1.5e-6","b":"s1","x":2.646,"y":7.95},{"F":"1.5e-6","b":"s1","x":2.739,"y":8.15},{"F":"1.5e-6","b":"s1","x":2.814,"y":8.2},{"F":"1.5e-6","b":"s1","x":2.87,"y":8.15},{"F":"1.5e-6","b":"s1","x":2.925,"y":7.95},{"F":"1.5e-6","b":"s1","x":2.963,"y":7.66},{"F":"1.5e-6","b":"s1","x":2.985,"y":7.32},{"F":"1.5e-6","b":"s1","x":2.993,"y":7.07},
{"F":"1.5e-6","b":"u","x":2.993,"y":7.07},{"F":"1.5e-6","b":"u","x":2.989,"y":6.63},{"F":"1.5e-6","b":"u","x":2.972,"y":5.95},{"F":"1.5e-6","b":"u","x":2.944,"y":5.26},{"F":"1.5e-6","b":"u","x":2.897,"y":4.48},{"F":"1.5e-6","b":"u","x":2.832,"y":3.7},{"F":"1.5e-6","b":"u","x":2.758,"y":3.01},{"F":"1.5e-6","b":"u","x":2.674,"y":2.33},{"F":"1.5e-6","b":"u","x":2.571,"y":1.74},{"F":"1.5e-6","b":"u","x":2.459,"y":1.15},{"F":"1.5e-6","b":"u","x":2.348,"y":0.76},{"F":"1.5e-6","b":"u","x":2.236,"y":0.42},{"F":"1.5e-6","b":"u","x":2.105,"y":0.17},{"F":"1.5e-6","b":"u","x":1.975,"y":-0.12},{"F":"1.5e-6","b":"u","x":1.844,"y":-0.51},{"F":"1.5e-6","b":"u","x":1.751,"y":-0.76},{"F":"1.5e-6","b":"u","x":1.695,"y":-0.83},{"F":"1.5e-6","b":"u","x":1.677,"y":-0.71},
{"F":"1.5e-6","b":"s2","x":1.677,"y":-0.71},{"F":"1.5e-6","b":"s2","x":1.705,"y":-0.61},{"F":"1.5e-6","b":"s2","x":1.77,"y":-0.49},{"F":"1.5e-6","b":"s2","x":1.863,"y":-0.36},{"F":"1.5e-6","b":"s2","x":1.975,"y":-0.26},{"F":"1.5e-6","b":"s2","x":2.124,"y":-0.21},{"F":"1.5e-6","b":"s2","x":2.31,"y":-0.17},{"F":"1.5e-6","b":"s2","x":2.497,"y":-0.12},{"F":"1.5e-6","b":"s2","x":2.683,"y":-0.1},{"F":"1.5e-6","b":"s2","x":3.106,"y":-0.07}
]
},
"concat": [
{
 "width": 389, "height": 320, "data": {"name": "a"},
 "title": {"text": "CT", "dx": 113, "dy": 90},
 "resolve": {"axis": {"x": "independent", "y": "independent"}, "scale": {"strokeDash": "independent"}, "legend": {"strokeDash": "independent"}},
 "layer": [
  {"transform": [{"filter": "datum.b != 'u'"}],
   "mark": {"type": "line", "strokeWidth": 2.7, "strokeCap": "round", "interpolate": "catmull-rom"},
   "encoding": {
    "x": {"field": "x", "type": "quantitative", "scale": {"domain": [0.666, 4.605], "nice": false, "zero": false}, "axis": {"orient": "bottom", "values": [1,2,3,4], "labelExpr": "'6.7777'", "tickSize": -5, "labelPadding": 11, "title": "Ω̄", "titleY": 34, "titleBaseline": "alphabetic", "titleFontSize": 15, "titleColor": "#555555"}},
    "y": {"field": "y", "type": "quantitative", "scale": {"domain": [-2.56, 20], "nice": false, "zero": false}, "axis": {"orient": "left", "values": [-2,0,2,4,6,8,10,12,14,16,18,20], "tickSize": -5, "labelPadding": 8, "title": "w̄₂", "titleX": -21, "titleBaseline": "alphabetic", "titleFontSize": 17, "titleFontStyle": "italic", "titleColor": "#8a8a8a"}},
    "color": {"field": "F", "type": "nominal", "scale": {"domain": ["5e-7","1e-6","1.5e-6"], "range": ["#ff8ec8","#63a72e","#ff1414"]}, "legend": {"title": "Stable", "legendX": 32, "legendY": 35, "titlePadding": -11, "titleAnchor": "middle", "symbolSize": 25, "symbolDash": [0.1, 4], "symbolStrokeWidth": 2.6, "labelExpr": "'F̄=' + datum.label", "encode": {"title": {"update": {"dy": {"value": -7.5}}}, "symbols": {"update": {"strokeCap": {"value": "round"}}}}}},
    "strokeDash": {"field": "F", "type": "nominal", "scale": {"domain": ["5e-7","1e-6","1.5e-6"], "range": [[0.1,2.2],[0.1,2.9],[0.1,4.6]]}, "legend": null},
    "detail": {"field": "b"},
    "order": {"value": null}
   }},
  {"transform": [{"filter": "datum.b == 'u'"}],
   "mark": {"type": "line", "strokeWidth": 1.8, "strokeCap": "round", "color": "#3d3dff", "interpolate": "catmull-rom"},
   "encoding": {
    "x": {"field": "x", "type": "quantitative", "scale": {"domain": [0.666, 4.605], "nice": false, "zero": false}, "axis": {"orient": "bottom", "tickCount": 39, "labels": false, "tickSize": -2.5, "title": "(a) CT", "titleY": 64, "titleX": 179.5, "titleBaseline": "alphabetic", "titleFont": "Liberation Serif", "titleFontSize": 24.5, "titleColor": "#000000"}},
    "y": {"field": "y", "type": "quantitative", "scale": {"domain": [-2.56, 20], "nice": false, "zero": false}, "axis": {"orient": "left", "tickCount": 45, "labels": false, "tickSize": -2.5, "title": null}},
    "strokeDash": {"field": "b", "type": "nominal", "scale": {"domain": ["u"], "range": [[0.1,5]]}, "legend": {"title": "Unstable", "legendX": 108, "legendY": 34, "padding": 3, "titlePadding": -11, "titleAnchor": "start", "symbolType": "M-5,0H5", "symbolSize": 20, "symbolOffset": 18, "symbolStrokeColor": "#3d3dff", "symbolStrokeWidth": 2, "labelExpr": "''", "labelFontSize": 5, "labelOffset": 0, "encode": {"title": {"update": {"dy": {"value": -5.5}, "dx": {"value": -11}}}, "symbols": {"update": {"strokeCap": {"value": "round"}}}}}},
    "detail": {"field": "F"},
    "order": {"value": null}
   }},
  {"mark": {"type": "point", "opacity": 0},
   "encoding": {
    "x": {"field": "x", "type": "quantitative", "scale": {"domain": [0.666, 4.605], "nice": false, "zero": false}, "axis": {"orient": "top", "values": [1,2,3,4], "labels": false, "tickSize": -5, "title": null}},
    "y": {"field": "y", "type": "quantitative", "scale": {"domain": [-2.56, 20], "nice": false, "zero": false}, "axis": {"orient": "right", "values": [-2,0,2,4,6,8,10,12,14,16,18,20], "labels": false, "tickSize": -5, "title": null}}
   }},
  {"mark": {"type": "point", "opacity": 0},
   "encoding": {
    "x": {"field": "x", "type": "quantitative", "scale": {"domain": [0.666, 4.605], "nice": false, "zero": false}, "axis": {"orient": "top", "tickCount": 39, "labels": false, "tickSize": -2.5, "title": null}},
    "y": {"field": "y", "type": "quantitative", "scale": {"domain": [-2.56, 20], "nice": false, "zero": false}, "axis": {"orient": "right", "tickCount": 45, "labels": false, "tickSize": -2.5, "title": null}}
   }}
 ]
},
{
 "width": 389, "height": 321, "data": {"name": "b"},
 "title": {"text": "NLT", "dx": 106, "dy": 84},
 "resolve": {"axis": {"x": "independent", "y": "independent"}, "scale": {"strokeDash": "independent"}, "legend": {"strokeDash": "independent"}},
 "layer": [
  {"transform": [{"filter": "datum.b != 'u'"}],
   "mark": {"type": "line", "strokeWidth": 2.7, "strokeCap": "round", "interpolate": "catmull-rom"},
   "encoding": {
    "x": {"field": "x", "type": "quantitative", "scale": {"domain": [0.679, 4.242], "nice": false, "zero": false}, "axis": {"orient": "bottom", "values": [1,2,3,4], "labelExpr": "'4.8084'", "tickSize": -5, "labelPadding": 11, "title": "Ω̄", "titleY": 34, "titleBaseline": "alphabetic", "titleFontSize": 15, "titleColor": "#555555"}},
    "y": {"field": "y", "type": "quantitative", "scale": {"domain": [-1.6, 14.33], "nice": false, "zero": false}, "axis": {"orient": "left", "values": [0,2,4,6,8,10,12,14], "tickSize": -5, "labelPadding": 8, "title": "w̄₂", "titleX": -21, "titleBaseline": "alphabetic", "titleFontSize": 17, "titleFontStyle": "italic", "titleColor": "#8a8a8a"}},
    "color": {"field": "F", "type": "nominal", "scale": {"domain": ["5e-7","1e-6","1.5e-6"], "range": ["#ff8ec8","#63a72e","#ff1414"]}, "legend": {"title": "Stable", "legendX": 29, "legendY": 38, "titlePadding": -11, "titleAnchor": "middle", "symbolSize": 25, "symbolDash": [0.1, 4], "symbolStrokeWidth": 2.6, "labelExpr": "'F̄=' + datum.label", "encode": {"title": {"update": {"dy": {"value": -7.5}}}, "symbols": {"update": {"strokeCap": {"value": "round"}}}}}},
    "strokeDash": {"field": "F", "type": "nominal", "scale": {"domain": ["5e-7","1e-6","1.5e-6"], "range": [[0.1,2.2],[0.1,2.9],[0.1,4.6]]}, "legend": null},
    "detail": {"field": "b"},
    "order": {"value": null}
   }},
  {"transform": [{"filter": "datum.b == 'u'"}],
   "mark": {"type": "line", "strokeWidth": 1.8, "strokeCap": "round", "color": "#3d3dff", "interpolate": "catmull-rom"},
   "encoding": {
    "x": {"field": "x", "type": "quantitative", "scale": {"domain": [0.679, 4.242], "nice": false, "zero": false}, "axis": {"orient": "bottom", "tickCount": 36, "labels": false, "tickSize": -2.5, "title": "(b) NLT", "titleY": 64, "titleX": 179.5, "titleBaseline": "alphabetic", "titleFont": "Liberation Serif", "titleFontSize": 24.5, "titleColor": "#000000"}},
    "y": {"field": "y", "type": "quantitative", "scale": {"domain": [-1.6, 14.33], "nice": false, "zero": false}, "axis": {"orient": "left", "tickCount": 32, "labels": false, "tickSize": -2.5, "title": null}},
    "strokeDash": {"field": "b", "type": "nominal", "scale": {"domain": ["u"], "range": [[0.1,5]]}, "legend": {"title": "Unstable", "legendX": 105, "legendY": 37, "padding": 3, "titlePadding": -11, "titleAnchor": "start", "symbolType": "M-5,0H5", "symbolSize": 20, "symbolOffset": 18, "symbolStrokeColor": "#3d3dff", "symbolStrokeWidth": 2, "labelExpr": "''", "labelFontSize": 5, "labelOffset": 0, "encode": {"title": {"update": {"dy": {"value": -5.5}, "dx": {"value": -11}}}, "symbols": {"update": {"strokeCap": {"value": "round"}}}}}},
    "detail": {"field": "F"},
    "order": {"value": null}
   }},
  {"mark": {"type": "point", "opacity": 0},
   "encoding": {
    "x": {"field": "x", "type": "quantitative", "scale": {"domain": [0.679, 4.242], "nice": false, "zero": false}, "axis": {"orient": "top", "values": [1,2,3,4], "labels": false, "tickSize": -5, "title": null}},
    "y": {"field": "y", "type": "quantitative", "scale": {"domain": [-1.6, 14.33], "nice": false, "zero": false}, "axis": {"orient": "right", "values": [0,2,4,6,8,10,12,14], "labels": false, "tickSize": -5, "title": null}}
   }},
  {"mark": {"type": "point", "opacity": 0},
   "encoding": {
    "x": {"field": "x", "type": "quantitative", "scale": {"domain": [0.679, 4.242], "nice": false, "zero": false}, "axis": {"orient": "top", "tickCount": 36, "labels": false, "tickSize": -2.5, "title": null}},
    "y": {"field": "y", "type": "quantitative", "scale": {"domain": [-1.6, 14.33], "nice": false, "zero": false}, "axis": {"orient": "right", "tickCount": 32, "labels": false, "tickSize": -2.5, "title": null}}
   }}
 ]
},
{
 "width": 391, "height": 320, "data": {"name": "c"},
 "title": {"text": "NSGT", "dx": 123, "dy": 82},
 "resolve": {"axis": {"x": "independent", "y": "independent"}, "scale": {"strokeDash": "independent"}, "legend": {"strokeDash": "independent"}},
 "layer": [
  {"transform": [{"filter": "datum.b != 'u'"}],
   "mark": {"type": "line", "strokeWidth": 2.7, "strokeCap": "round", "interpolate": "catmull-rom"},
   "encoding": {
    "x": {"field": "x", "type": "quantitative", "scale": {"domain": [0.848, 4.221], "nice": false, "zero": false}, "axis": {"orient": "bottom", "values": [1,2,3,4], "labelExpr": "'5.04'", "tickSize": -5, "labelPadding": 11, "title": "Ω̄", "titleY": 34, "titleBaseline": "alphabetic", "titleFontSize": 15, "titleColor": "#555555"}},
    "y": {"field": "y", "type": "quantitative", "scale": {"domain": [-1.55, 13.8], "nice": false, "zero": false}, "axis": {"orient": "left", "values": [0,2,4,6,8,10,12], "tickSize": -5, "labelPadding": 8, "title": "w̄₂", "titleX": -21, "titleBaseline": "alphabetic", "titleFontSize": 17, "titleFontStyle": "italic", "titleColor": "#8a8a8a"}},
    "color": {"field": "F", "type": "nominal", "scale": {"domain": ["5e-7","1e-6","1.5e-6"], "range": ["#ff8ec8","#63a72e","#ff1414"]}, "legend": {"title": "Stable", "legendX": 29, "legendY": 33, "titlePadding": -11, "titleAnchor": "middle", "symbolSize": 25, "symbolDash": [0.1, 4], "symbolStrokeWidth": 2.6, "labelExpr": "'F̄=' + datum.label", "encode": {"title": {"update": {"dy": {"value": -7.5}}}, "symbols": {"update": {"strokeCap": {"value": "round"}}}}}},
    "strokeDash": {"field": "F", "type": "nominal", "scale": {"domain": ["5e-7","1e-6","1.5e-6"], "range": [[0.1,2.2],[0.1,2.9],[0.1,4.6]]}, "legend": null},
    "detail": {"field": "b"},
    "order": {"value": null}
   }},
  {"transform": [{"filter": "datum.b == 'u'"}],
   "mark": {"type": "line", "strokeWidth": 1.8, "strokeCap": "round", "color": "#3d3dff", "interpolate": "catmull-rom"},
   "encoding": {
    "x": {"field": "x", "type": "quantitative", "scale": {"domain": [0.848, 4.221], "nice": false, "zero": false}, "axis": {"orient": "bottom", "tickCount": 34, "labels": false, "tickSize": -2.5, "title": "(c) NSGT", "titleY": 64, "titleX": 180.5, "titleBaseline": "alphabetic", "titleFont": "Liberation Serif", "titleFontSize": 24.5, "titleColor": "#000000"}},
    "y": {"field": "y", "type": "quantitative", "scale": {"domain": [-1.55, 13.8], "nice": false, "zero": false}, "axis": {"orient": "left", "tickCount": 31, "labels": false, "tickSize": -2.5, "title": null}},
    "strokeDash": {"field": "b", "type": "nominal", "scale": {"domain": ["u"], "range": [[0.1,5]]}, "legend": {"title": "Unstable", "legendX": 105, "legendY": 31, "padding": 3, "titlePadding": -11, "titleAnchor": "start", "symbolType": "M-5,0H5", "symbolSize": 20, "symbolOffset": 18, "symbolStrokeColor": "#3d3dff", "symbolStrokeWidth": 2, "labelExpr": "''", "labelFontSize": 5, "labelOffset": 0, "encode": {"title": {"update": {"dy": {"value": -5.5}, "dx": {"value": -11}}}, "symbols": {"update": {"strokeCap": {"value": "round"}}}}}},
    "detail": {"field": "F"},
    "order": {"value": null}
   }},
  {"mark": {"type": "point", "opacity": 0},
   "encoding": {
    "x": {"field": "x", "type": "quantitative", "scale": {"domain": [0.848, 4.221], "nice": false, "zero": false}, "axis": {"orient": "top", "values": [1,2,3,4], "labels": false, "tickSize": -5, "title": null}},
    "y": {"field": "y", "type": "quantitative", "scale": {"domain": [-1.55, 13.8], "nice": false, "zero": false}, "axis": {"orient": "right", "values": [0,2,4,6,8,10,12], "labels": false, "tickSize": -5, "title": null}}
   }},
  {"mark": {"type": "point", "opacity": 0},
   "encoding": {
    "x": {"field": "x", "type": "quantitative", "scale": {"domain": [0.848, 4.221], "nice": false, "zero": false}, "axis": {"orient": "top", "tickCount": 34, "labels": false, "tickSize": -2.5, "title": null}},
    "y": {"field": "y", "type": "quantitative", "scale": {"domain": [-1.55, 13.8], "nice": false, "zero": false}, "axis": {"orient": "right", "tickCount": 31, "labels": false, "tickSize": -2.5, "title": null}}
   }}
 ]
},
{
 "width": 388, "height": 322, "data": {"name": "d"},
 "title": {"text": "GMSIT", "dx": 97, "dy": 85},
 "resolve": {"axis": {"x": "independent", "y": "independent"}, "scale": {"strokeDash": "independent"}, "legend": {"strokeDash": "independent"}},
 "layer": [
  {"transform": [{"filter": "datum.b != 'u'"}],
   "mark": {"type": "line", "strokeWidth": 2.7, "strokeCap": "round", "interpolate": "catmull-rom"},
   "encoding": {
    "x": {"field": "x", "type": "quantitative", "scale": {"domain": [0.893, 3.109], "nice": false, "zero": false}, "axis": {"orient": "bottom", "values": [1,2,3], "labelExpr": "'10.0767'", "tickSize": -5, "labelPadding": 11, "title": "Ω̄", "titleY": 34, "titleBaseline": "alphabetic", "titleFontSize": 15, "titleColor": "#555555"}},
    "y": {"field": "y", "type": "quantitative", "scale": {"domain": [-1.91, 12.12], "nice": false, "zero": false}, "axis": {"orient": "left", "values": [0,2,4,6,8,10,12], "tickSize": -5, "labelPadding": 8, "title": "w̄₂", "titleX": -21, "titleBaseline": "alphabetic", "titleFontSize": 17, "titleFontStyle": "italic", "titleColor": "#8a8a8a"}},
    "color": {"field": "F", "type": "nominal", "scale": {"domain": ["5e-7","1e-6","1.5e-6"], "range": ["#ff8ec8","#63a72e","#ff1414"]}, "legend": {"title": "Stable", "legendX": 20, "legendY": 33, "titlePadding": -11, "titleAnchor": "middle", "symbolSize": 25, "symbolDash": [0.1, 4], "symbolStrokeWidth": 2.6, "labelExpr": "'F̄=' + datum.label", "encode": {"title": {"update": {"dy": {"value": -7.5}}}, "symbols": {"update": {"strokeCap": {"value": "round"}}}}}},
    "strokeDash": {"field": "F", "type": "nominal", "scale": {"domain": ["5e-7","1e-6","1.5e-6"], "range": [[0.1,2.2],[0.1,2.9],[0.1,4.6]]}, "legend": null},
    "detail": {"field": "b"},
    "order": {"value": null}
   }},
  {"transform": [{"filter": "datum.b == 'u'"}],
   "mark": {"type": "line", "strokeWidth": 1.8, "strokeCap": "round", "color": "#3d3dff", "interpolate": "catmull-rom"},
   "encoding": {
    "x": {"field": "x", "type": "quantitative", "scale": {"domain": [0.893, 3.109], "nice": false, "zero": false}, "axis": {"orient": "bottom", "tickCount": 22, "labels": false, "tickSize": -2.5, "title": "(d) GMSIT", "titleY": 64, "titleX": 179, "titleBaseline": "alphabetic", "titleFont": "Liberation Serif", "titleFontSize": 24.5, "titleColor": "#000000"}},
    "y": {"field": "y", "type": "quantitative", "scale": {"domain": [-1.91, 12.12], "nice": false, "zero": false}, "axis": {"orient": "left", "tickCount": 28, "labels": false, "tickSize": -2.5, "title": null}},
    "strokeDash": {"field": "b", "type": "nominal", "scale": {"domain": ["u"], "range": [[0.1,5]]}, "legend": {"title": "Unstable", "legendX": 95, "legendY": 32, "padding": 3, "titlePadding": -11, "titleAnchor": "start", "symbolType": "M-5,0H5", "symbolSize": 20, "symbolOffset": 18, "symbolStrokeColor": "#3d3dff", "symbolStrokeWidth": 2, "labelExpr": "''", "labelFontSize": 5, "labelOffset": 0, "encode": {"title": {"update": {"dy": {"value": -5.5}, "dx": {"value": -11}}}, "symbols": {"update": {"strokeCap": {"value": "round"}}}}}},
    "detail": {"field": "F"},
    "order": {"value": null}
   }},
  {"mark": {"type": "point", "opacity": 0},
   "encoding": {
    "x": {"field": "x", "type": "quantitative", "scale": {"domain": [0.893, 3.109], "nice": false, "zero": false}, "axis": {"orient": "top", "values": [1,2,3], "labels": false, "tickSize": -5, "title": null}},
    "y": {"field": "y", "type": "quantitative", "scale": {"domain": [-1.91, 12.12], "nice": false, "zero": false}, "axis": {"orient": "right", "values": [0,2,4,6,8,10,12], "labels": false, "tickSize": -5, "title": null}}
   }},
  {"mark": {"type": "point", "opacity": 0},
   "encoding": {
    "x": {"field": "x", "type": "quantitative", "scale": {"domain": [0.893, 3.109], "nice": false, "zero": false}, "axis": {"orient": "top", "tickCount": 22, "labels": false, "tickSize": -2.5, "title": null}},
    "y": {"field": "y", "type": "quantitative", "scale": {"domain": [-1.91, 12.12], "nice": false, "zero": false}, "axis": {"orient": "right", "tickCount": 28, "labels": false, "tickSize": -2.5, "title": null}}
   }}
 ]
},
{
 "width": 390, "height": 323, "data": {"name": "e"},
 "title": {"text": "GMSIT+NLT", "dx": 94, "dy": 79},
 "resolve": {"axis": {"x": "independent", "y": "independent"}, "scale": {"strokeDash": "independent"}, "legend": {"strokeDash": "independent"}},
 "layer": [
  {"transform": [{"filter": "datum.b != 'u'"}],
   "mark": {"type": "line", "strokeWidth": 2.7, "strokeCap": "round", "interpolate": "catmull-rom"},
   "encoding": {
    "x": {"field": "x", "type": "quantitative", "scale": {"domain": [0.936, 3.094], "nice": false, "zero": false}, "axis": {"orient": "bottom", "values": [1,2,3], "labelExpr": "'7.151'", "tickSize": -5, "labelPadding": 11, "title": "Ω̄", "titleY": 34, "titleBaseline": "alphabetic", "titleFontSize": 15, "titleColor": "#555555"}},
    "y": {"field": "y", "type": "quantitative", "scale": {"domain": [-1.21, 8.89], "nice": false, "zero": false}, "axis": {"orient": "left", "values": [-1,0,1,2,3,4,5,6,7,8], "tickSize": -5, "labelPadding": 8, "title": "w̄₂", "titleX": -21, "titleBaseline": "alphabetic", "titleFontSize": 17, "titleFontStyle": "italic", "titleColor": "#8a8a8a"}},
    "color": {"field": "F", "type": "nominal", "scale": {"domain": ["5e-7","1e-6","1.5e-6"], "range": ["#ff8ec8","#63a72e","#ff1414"]}, "legend": {"title": "Stable", "legendX": 26, "legendY": 36, "titlePadding": -11, "titleAnchor": "middle", "symbolSize": 25, "symbolDash": [0.1, 4], "symbolStrokeWidth": 2.6, "labelExpr": "'F̄=' + datum.label", "encode": {"title": {"update": {"dy": {"value": -7.5}}}, "symbols": {"update": {"strokeCap": {"value": "round"}}}}}},
    "strokeDash": {"field": "F", "type": "nominal", "scale": {"domain": ["5e-7","1e-6","1.5e-6"], "range": [[0.1,2.2],[0.1,2.9],[0.1,4.6]]}, "legend": null},
    "detail": {"field": "b"},
    "order": {"value": null}
   }},
  {"transform": [{"filter": "datum.b == 'u'"}],
   "mark": {"type": "line", "strokeWidth": 1.8, "strokeCap": "round", "color": "#3d3dff", "interpolate": "catmull-rom"},
   "encoding": {
    "x": {"field": "x", "type": "quantitative", "scale": {"domain": [0.936, 3.094], "nice": false, "zero": false}, "axis": {"orient": "bottom", "tickCount": 22, "labels": false, "tickSize": -2.5, "title": "(e) GMSIT + NLT", "titleY": 64, "titleX": 180, "titleBaseline": "alphabetic", "titleFont": "Liberation Serif", "titleFontSize": 24.5, "titleColor": "#000000"}},
    "y": {"field": "y", "type": "quantitative", "scale": {"domain": [-1.21, 8.89], "nice": false, "zero": false}, "axis": {"orient": "left", "tickCount": 50, "labels": false, "tickSize": -2.5, "title": null}},
    "strokeDash": {"field": "b", "type": "nominal", "scale": {"domain": ["u"], "range": [[0.1,5]]}, "legend": {"title": "Unstable", "legendX": 102, "legendY": 35, "padding": 3, "titlePadding": -11, "titleAnchor": "start", "symbolType": "M-5,0H5", "symbolSize": 20, "symbolOffset": 18, "symbolStrokeColor": "#3d3dff", "symbolStrokeWidth": 2, "labelExpr": "''", "labelFontSize": 5, "labelOffset": 0, "encode": {"title": {"update": {"dy": {"value": -5.5}, "dx": {"value": -11}}}, "symbols": {"update": {"strokeCap": {"value": "round"}}}}}},
    "detail": {"field": "F"},
    "order": {"value": null}
   }},
  {"mark": {"type": "point", "opacity": 0},
   "encoding": {
    "x": {"field": "x", "type": "quantitative", "scale": {"domain": [0.936, 3.094], "nice": false, "zero": false}, "axis": {"orient": "top", "values": [1,2,3], "labels": false, "tickSize": -5, "title": null}},
    "y": {"field": "y", "type": "quantitative", "scale": {"domain": [-1.21, 8.89], "nice": false, "zero": false}, "axis": {"orient": "right", "values": [-1,0,1,2,3,4,5,6,7,8], "labels": false, "tickSize": -5, "title": null}}
   }},
  {"mark": {"type": "point", "opacity": 0},
   "encoding": {
    "x": {"field": "x", "type": "quantitative", "scale": {"domain": [0.936, 3.094], "nice": false, "zero": false}, "axis": {"orient": "top", "tickCount": 22, "labels": false, "tickSize": -2.5, "title": null}},
    "y": {"field": "y", "type": "quantitative", "scale": {"domain": [-1.21, 8.89], "nice": false, "zero": false}, "axis": {"orient": "right", "tickCount": 50, "labels": false, "tickSize": -2.5, "title": null}}
   }}
 ]
},
{
 "width": 391, "height": 324, "data": {"name": "f"},
 "title": {"text": "GMSIT+NSGT", "dx": 98, "dy": 82},
 "resolve": {"axis": {"x": "independent", "y": "independent"}, "scale": {"strokeDash": "independent"}, "legend": {"strokeDash": "independent"}},
 "layer": [
  {"transform": [{"filter": "datum.b != 'u'"}],
   "mark": {"type": "line", "strokeWidth": 2.7, "strokeCap": "round", "interpolate": "catmull-rom"},
   "encoding": {
    "x": {"field": "x", "type": "quantitative", "scale": {"domain": [0.912, 3.106], "nice": false, "zero": false}, "axis": {"orient": "bottom", "values": [1,2,3], "labelExpr": "'7.4932'", "tickSize": -5, "labelPadding": 11, "title": "Ω̄", "titleY": 34, "titleBaseline": "alphabetic", "titleFontSize": 15, "titleColor": "#555555"}},
    "y": {"field": "y", "type": "quantitative", "scale": {"domain": [-1.13, 8.39], "nice": false, "zero": false}, "axis": {"orient": "left", "values": [-1,0,1,2,3,4,5,6,7,8], "tickSize": -5, "labelPadding": 8, "title": "w̄₂", "titleX": -21, "titleBaseline": "alphabetic", "titleFontSize": 17, "titleFontStyle": "italic", "titleColor": "#8a8a8a"}},
    "color": {"field": "F", "type": "nominal", "scale": {"domain": ["5e-7","1e-6","1.5e-6"], "range": ["#ff8ec8","#63a72e","#ff1414"]}, "legend": {"title": "Stable", "legendX": 18, "legendY": 36, "titlePadding": -11, "titleAnchor": "middle", "symbolSize": 25, "symbolDash": [0.1, 4], "symbolStrokeWidth": 2.6, "labelExpr": "'F̄=' + datum.label", "encode": {"title": {"update": {"dy": {"value": -7.5}}}, "symbols": {"update": {"strokeCap": {"value": "round"}}}}}},
    "strokeDash": {"field": "F", "type": "nominal", "scale": {"domain": ["5e-7","1e-6","1.5e-6"], "range": [[0.1,2.2],[0.1,2.9],[0.1,4.6]]}, "legend": null},
    "detail": {"field": "b"},
    "order": {"value": null}
   }},
  {"transform": [{"filter": "datum.b == 'u'"}],
   "mark": {"type": "line", "strokeWidth": 1.8, "strokeCap": "round", "color": "#3d3dff", "interpolate": "catmull-rom"},
   "encoding": {
    "x": {"field": "x", "type": "quantitative", "scale": {"domain": [0.912, 3.106], "nice": false, "zero": false}, "axis": {"orient": "bottom", "tickCount": 22, "labels": false, "tickSize": -2.5, "title": "(f) GMSIT + NSGT", "titleY": 64, "titleX": 180.5, "titleBaseline": "alphabetic", "titleFont": "Liberation Serif", "titleFontSize": 24.5, "titleColor": "#000000"}},
    "y": {"field": "y", "type": "quantitative", "scale": {"domain": [-1.13, 8.39], "nice": false, "zero": false}, "axis": {"orient": "left", "tickCount": 48, "labels": false, "tickSize": -2.5, "title": null}},
    "strokeDash": {"field": "b", "type": "nominal", "scale": {"domain": ["u"], "range": [[0.1,5]]}, "legend": {"title": "Unstable", "legendX": 93, "legendY": 35, "padding": 3, "titlePadding": -11, "titleAnchor": "start", "symbolType": "M-5,0H5", "symbolSize": 20, "symbolOffset": 18, "symbolStrokeColor": "#3d3dff", "symbolStrokeWidth": 2, "labelExpr": "''", "labelFontSize": 5, "labelOffset": 0, "encode": {"title": {"update": {"dy": {"value": -5.5}, "dx": {"value": -11}}}, "symbols": {"update": {"strokeCap": {"value": "round"}}}}}},
    "detail": {"field": "F"},
    "order": {"value": null}
   }},
  {"mark": {"type": "point", "opacity": 0},
   "encoding": {
    "x": {"field": "x", "type": "quantitative", "scale": {"domain": [0.912, 3.106], "nice": false, "zero": false}, "axis": {"orient": "top", "values": [1,2,3], "labels": false, "tickSize": -5, "title": null}},
    "y": {"field": "y", "type": "quantitative", "scale": {"domain": [-1.13, 8.39], "nice": false, "zero": false}, "axis": {"orient": "right", "values": [-1,0,1,2,3,4,5,6,7,8], "labels": false, "tickSize": -5, "title": null}}
   }},
  {"mark": {"type": "point", "opacity": 0},
   "encoding": {
    "x": {"field": "x", "type": "quantitative", "scale": {"domain": [0.912, 3.106], "nice": false, "zero": false}, "axis": {"orient": "top", "tickCount": 22, "labels": false, "tickSize": -2.5, "title": null}},
    "y": {"field": "y", "type": "quantitative", "scale": {"domain": [-1.13, 8.39], "nice": false, "zero": false}, "axis": {"orient": "right", "tickCount": 48, "labels": false, "tickSize": -2.5, "title": null}}
   }}
 ]
}
]
}
